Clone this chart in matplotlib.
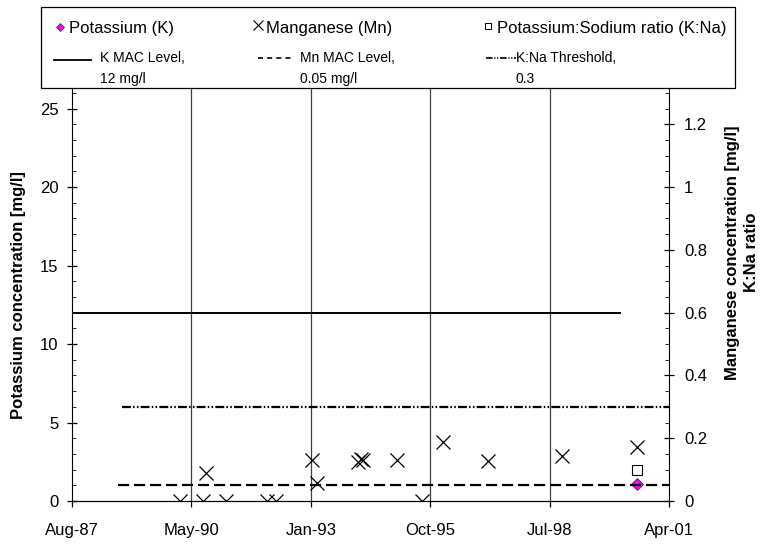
import numpy as np
import matplotlib
matplotlib.use('Agg')
import matplotlib.pyplot as plt
from matplotlib.lines import Line2D
from matplotlib.patches import Rectangle
from matplotlib.ticker import MultipleLocator

plt.rcParams['font.family'] = ['Liberation Sans', 'DejaVu Sans']

# --- data -------------------------------------------------------------------
mn_dates = ['1990-01-31', '1990-08-15', '1990-09-06', '1991-02-18', '1992-02-02',
            '1992-04-14', '1993-02-12', '1993-03-21', '1994-02-27', '1994-03-27',
            '1994-04-16', '1995-01-20', '1995-08-17', '1996-02-09', '1997-02-19',
            '1998-11-07', '2000-07-27']
mn_values = [0.0, 0.0, 0.09, 0.0, 0.0,
             0.0, 0.132, 0.058, 0.125, 0.135,
             0.13, 0.132, 0.0, 0.187, 0.129,
             0.143, 0.171]

k_dates = ['2000-07-27']
k_values = [1.1]

kna_dates = ['2000-07-27']
kna_values = [0.10]

k_mac_dates = ['1987-08-11', '2000-03-05']
k_mac_values = [12, 12]
mn_mac_dates = ['1988-09-03', '2001-04-19']
mn_mac_values = [0.05, 0.05]
kna_thr_dates = ['1988-10-01', '2001-04-19']
kna_thr_values = [0.3, 0.3]

tick_labels = ['Aug-87', 'May-90', 'Jan-93', 'Oct-95', 'Jul-98', 'Apr-01']


def to_dt(d):
    return np.array(d, dtype='datetime64[D]')


x_ticks = np.datetime64('1987-08-11') + np.arange(len(tick_labels)) * np.timedelta64(1000, 'D')

# --- figure -----------------------------------------------------------------
fig = plt.figure(figsize=(7.65, 5.44), dpi=100)
W, H = 765, 544
ax = fig.add_axes([72 / W, 1 - 501 / H, (669 - 72) / W, (501 - 89) / H])
ax2 = ax.twinx()

# vertical gridlines at major date ticks
for t in x_ticks[1:-1]:
    ax.axvline(t, color='#404040', lw=0.9, zorder=0)

# left axis: potassium
ax.plot(to_dt(k_mac_dates), k_mac_values, color='black', lw=1.4)
ax.plot(to_dt(k_dates), k_values, ls='none', marker='D', ms=6,
        mfc='#ff00ff', mec='#333333', mew=0.6, zorder=5)

# right axis: manganese and K:Na
ax2.plot(to_dt(mn_mac_dates), mn_mac_values, color='black', lw=1.6, dashes=(5, 2.2))
ax2.plot(to_dt(kna_thr_dates), kna_thr_values, color='black', lw=1.6,
         dashes=(4, 1, 0.7, 1, 0.7, 1))
ax2.plot(to_dt(mn_dates), mn_values, ls='none', marker='x', ms=10, mew=0.9,
         color='black')
ax2.plot(to_dt(kna_dates), kna_values, ls='none', marker='s', ms=7,
         mfc='white', mec='black', mew=0.8)

ax.set_xlim(x_ticks[0], x_ticks[-1])
ax.set_xticks(x_ticks)
ax.set_xticklabels(tick_labels)
ax.set_ylim(0, 26.25)
ax2.set_ylim(0, 1.3125)
ax.yaxis.set_major_locator(MultipleLocator(5))
ax.yaxis.set_minor_locator(MultipleLocator(1))
ax2.yaxis.set_minor_locator(MultipleLocator(0.05))
ax2.set_yticks([0, 0.2, 0.4, 0.6, 0.8, 1.0, 1.2])
ax2.set_yticklabels(['0', '0.2', '0.4', '0.6', '0.8', '1', '1.2'])

for a in (ax, ax2):
    a.spines['top'].set_visible(False)
    a.tick_params(labelsize=12, width=0.9, color='black')
ax.spines['right'].set_visible(False)
ax2.spines['left'].set_visible(False)
ax.tick_params(axis='y', which='major', direction='inout', length=7.5, pad=6)
ax.tick_params(axis='y', which='minor', direction='in', length=3)
ax.tick_params(axis='x', which='major', direction='out', length=4, pad=12)
ax2.tick_params(axis='y', which='major', direction='inout', length=7.5, pad=7)
ax2.tick_params(axis='y', which='minor', direction='in', length=3)

fig.text(19 / W, 1 - 295 / H, 'Potassium concentration [mg/l]', rotation=90,
         ha='center', va='center', fontsize=12, fontweight='bold')
fig.text(733 / W, 1 - 253 / H, 'Manganese concentration [mg/l]', rotation=90,
         ha='center', va='center', fontsize=12, fontweight='bold')
fig.text(752 / W, 1 - 252 / H, 'K:Na ratio', rotation=90,
         ha='center', va='center', fontsize=12, fontweight='bold')

# --- legend box (drawn by hand, in pixel positions) --------------------------
def fx(x):
    return x / W


def fy(y):
    return 1 - y / H


fig.add_artist(Rectangle((fx(41), fy(88)), fx(735) - fx(41), fy(7) - fy(88),
                         transform=fig.transFigure, fill=False, ec='black', lw=0.9))

row1 = 28
fig.add_artist(Line2D([fx(60)], [fy(row1 - 1)], marker='D', ms=4.5, mfc='#ff00ff',
                      mec='#333333', mew=0.5, transform=fig.transFigure))
fig.text(fx(69), fy(row1), 'Potassium (K)', fontsize=12, va='center')
fig.add_artist(Line2D([fx(258)], [fy(row1 - 3)], marker='x', ms=6.5, mew=0.8,
                      color='black', transform=fig.transFigure))
fig.text(fx(266), fy(row1), 'Manganese (Mn)', fontsize=12, va='center')
fig.add_artist(Line2D([fx(488)], [fy(row1 - 2)], marker='s', ms=5, mfc='white',
                      mec='black', mew=0.7, transform=fig.transFigure))
fig.text(fx(497), fy(row1), 'Potassium:Sodium ratio (K:Na)', fontsize=12,
         va='center')

row2 = 58
fig.add_artist(Line2D([fx(54), fx(91)], [fy(row2 + 2)] * 2, color='black', lw=1.3,
                      transform=fig.transFigure))
fig.text(fx(100), fy(row2 - 7), 'K MAC Level,\n12 mg/l', fontsize=10, va='top',
         linespacing=1.65)
fig.add_artist(Line2D([fx(258), fx(292)], [fy(row2)] * 2, color='black', lw=1.2,
                      dashes=(3, 2.5), transform=fig.transFigure))
fig.text(fx(300), fy(row2 - 7), 'Mn MAC Level,\n0.05 mg/l', fontsize=10, va='top',
         linespacing=1.65)
fig.add_artist(Line2D([fx(486), fx(516)], [fy(row2)] * 2, color='black', lw=1.2,
                      dashes=(4, 1, 0.7, 1, 0.7, 1), transform=fig.transFigure))
fig.text(fx(516), fy(row2 - 7), 'K:Na Threshold,\n0.3', fontsize=10, va='top',
         linespacing=1.65)

fig.savefig('out.png', dpi=100)
